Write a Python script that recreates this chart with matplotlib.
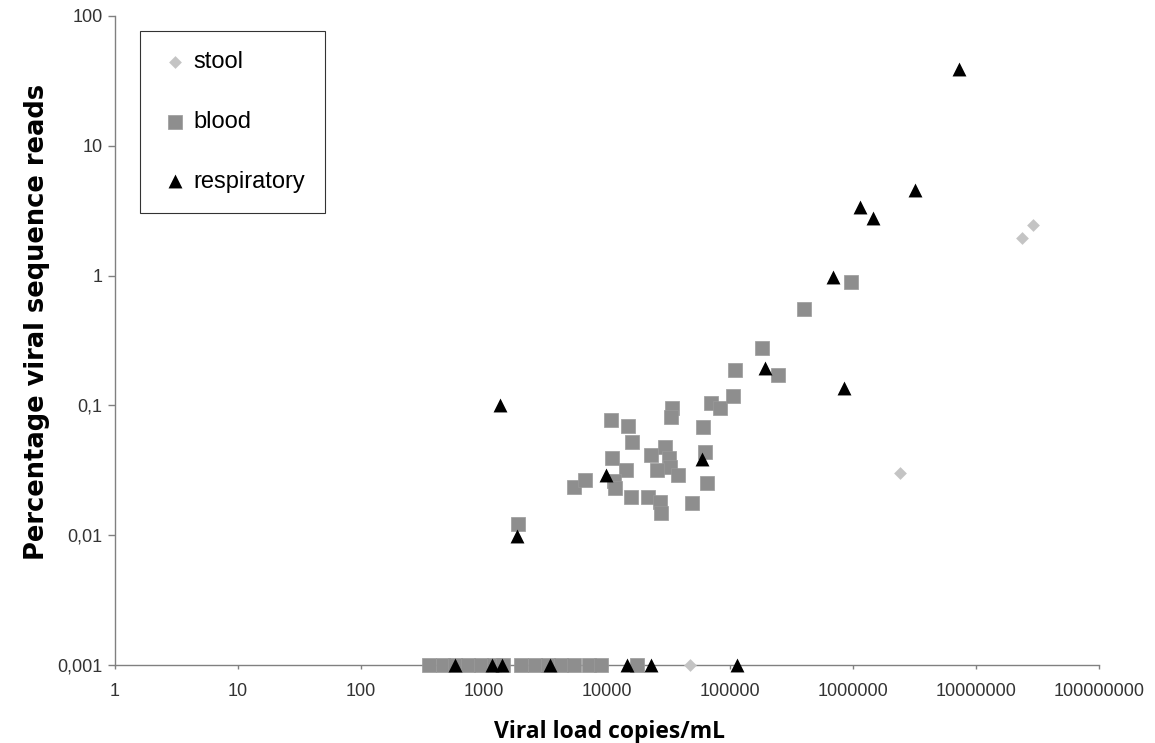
import matplotlib
matplotlib.use("Agg")
import matplotlib.pyplot as plt

# viral load (copies/mL) vs percentage viral reads, per sample type
stool_x = [47000, 2400000, 23500000, 29300000]
stool_y = [0.001, 0.030, 1.94, 2.45]

blood_x = [360, 460, 580, 740, 950, 1200, 1430, 2000, 2600, 3300, 4200, 5400, 7200, 9000, 17500,
           1880, 5400, 6650, 10800, 14900, 15900, 11000, 14300, 11500, 11700, 15600, 21400,
           27000, 27300, 23000, 29600, 32000, 32500, 25300, 38000, 34000, 33000, 60700,
           63000, 65500, 48700, 70400, 83000, 105000, 110000, 182000, 246000, 397000, 960000]
blood_y = [0.001, 0.001, 0.001, 0.001, 0.001, 0.001, 0.001, 0.001, 0.001, 0.001, 0.001, 0.001,
           0.001, 0.001, 0.001,
           0.0122, 0.0234, 0.0266, 0.0772, 0.0698, 0.0525, 0.039, 0.0318, 0.026, 0.0233, 0.0196,
           0.0197, 0.0181, 0.0149, 0.0415, 0.048, 0.039, 0.0337, 0.0318, 0.029, 0.095, 0.082,
           0.0686, 0.044, 0.0254, 0.0176, 0.105, 0.095, 0.118, 0.187, 0.275, 0.171, 0.55, 0.89]

resp_x = [580, 1155, 1390, 3440, 14500, 23000, 115000,
          1350, 1860, 9770, 58900, 193000, 850000, 690000, 1150000, 1450000, 3200000, 7300000]
resp_y = [0.001, 0.001, 0.001, 0.001, 0.001, 0.001, 0.001,
          0.1, 0.0098, 0.029, 0.0386, 0.193, 0.135, 0.97, 3.4, 2.76, 4.55, 38.8]

x_ticks = [1, 10, 100, 1000, 10000, 100000, 1000000, 10000000, 100000000]
x_labels = ["1", "10", "100", "1000", "10000", "100000", "1000000", "10000000", "100000000"]
y_ticks = [0.001, 0.01, 0.1, 1, 10, 100]
y_labels = ["0,001", "0,01", "0,1", "1", "10", "100"]

plt.rcParams['font.family'] = ['Liberation Sans', 'DejaVu Sans']

fig = plt.figure(figsize=(11.55, 7.43), dpi=100)
ax = fig.add_axes([115 / 1155, 78 / 743, 984 / 1155, 649 / 743])

ax.scatter(stool_x, stool_y, marker='D', s=6.5**2, color='#c4c4c4', linewidths=0,
           label='stool', clip_on=False, zorder=3)
ax.scatter(blood_x, blood_y, marker='s', s=9.4**2, color='#8e8e8e', edgecolors='#9a9a9a',
           linewidths=0.5, label='blood', clip_on=False, zorder=3)
ax.scatter(resp_x, resp_y, marker='^', s=10**2, color='black', linewidths=0,
           label='respiratory', clip_on=False, zorder=4)

ax.set_xscale('log')
ax.set_yscale('log')
ax.set_xlim(1, 100000000)
ax.set_ylim(0.001, 100)
ax.set_xticks(x_ticks)
ax.set_xticklabels(x_labels)
ax.set_yticks(y_ticks)
ax.set_yticklabels(y_labels)
ax.minorticks_off()

for s in ['top', 'right']:
    ax.spines[s].set_visible(False)
for s in ['left', 'bottom']:
    ax.spines[s].set_color('#808080')
    ax.spines[s].set_linewidth(1.0)

ax.tick_params(axis='y', direction='out', length=5, width=1, color='#808080',
               labelsize=13, labelcolor='#333333', pad=4)
ax.tick_params(axis='x', direction='out', length=3, width=1, color='#808080',
               labelsize=13, labelcolor='#333333', pad=10)

ax.set_xlabel('Viral load copies/mL', fontsize=16.5, fontweight='bold',
              family=['Open Sans', 'DejaVu Sans'])
ax.xaxis.set_label_coords(0.503, -0.084)
ax.set_ylabel('Percentage viral sequence reads', fontsize=18.5, fontweight='bold',
              family=['DejaVu Sans'])
ax.yaxis.set_label_coords(-0.066, 0.528)

leg = ax.legend(loc='upper left', bbox_to_anchor=(0.0254, 0.977), borderaxespad=0,
                fontsize=17, frameon=True, fancybox=False, edgecolor='black',
                labelspacing=1.6, handlelength=1.3, handletextpad=0.1, borderpad=0.85,
                scatterpoints=1)
leg.get_frame().set_linewidth(0.8)

fig.savefig('out.png', dpi=100, facecolor='white')
